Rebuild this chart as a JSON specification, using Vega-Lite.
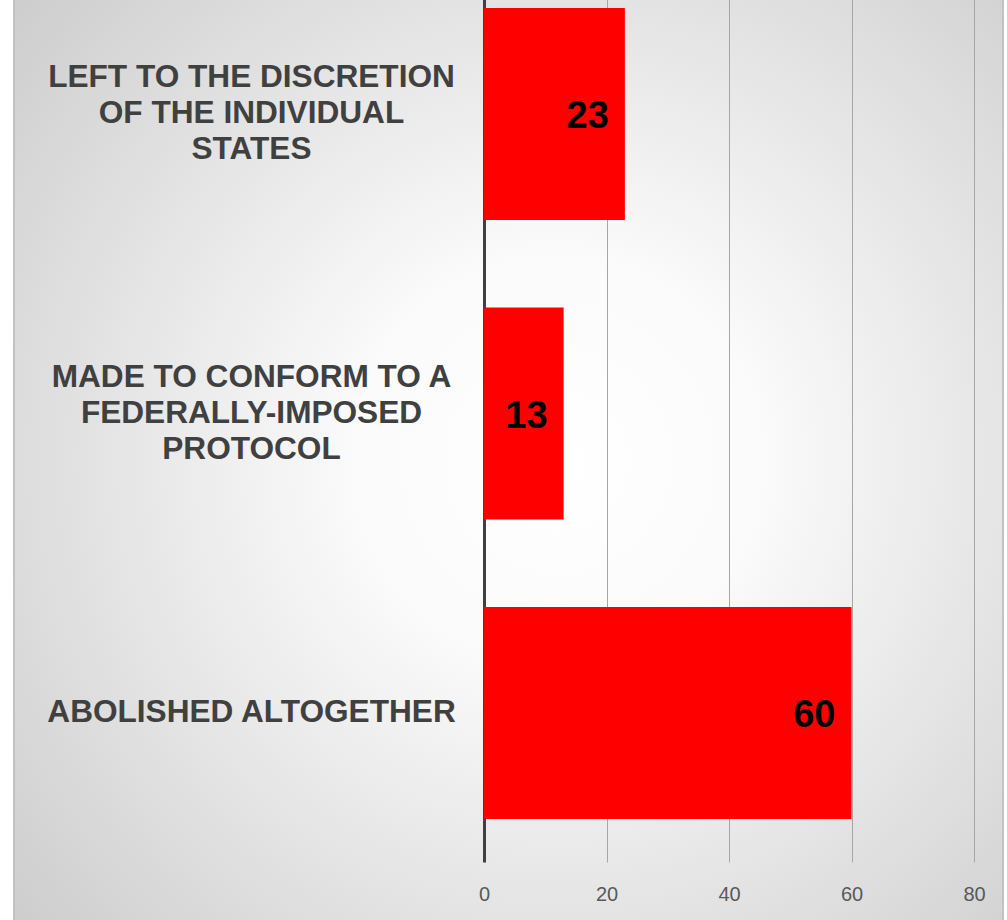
{
  "$schema": "https://vega.github.io/schema/vega-lite/v6.json",
  "autosize": "none",
  "width": 989,
  "height": 923,
  "padding": {"left": 14, "top": -1, "right": 4, "bottom": 0},
  "background": "#ffffff",
  "config": {
    "view": {
      "stroke": "#c2c2c2",
      "strokeWidth": 2,
      "fill": {
        "gradient": "radial",
        "x1": 0.55, "y1": 0.5, "x2": 0.55, "y2": 0.5,
        "r1": 0, "r2": 0.8,
        "stops": [
          {"offset": 0, "color": "#ffffff"},
          {"offset": 0.25, "color": "#fbfbfb"},
          {"offset": 1, "color": "#c6c6c6"}
        ]
      }
    }
  },
  "data": {
    "values": [
      {"option": "LEFT TO THE DISCRETION\nOF THE INDIVIDUAL\nSTATES", "value": 23},
      {"option": "MADE TO CONFORM TO A\nFEDERALLY-IMPOSED\nPROTOCOL", "value": 13},
      {"option": "ABOLISHED ALTOGETHER", "value": 60}
    ]
  },
  "encoding": {
    "y": {
      "field": "option",
      "type": "nominal",
      "sort": null,
      "scale": {"paddingInner": 0.292, "paddingOuter": 0.187, "align": 0.0804},
      "axis": {
        "title": null,
        "orient": "left",
        "offset": -470,
        "domain": false,
        "ticks": false,
        "labelExpr": "split(datum.label, '\\n')",
        "labelAlign": "center",
        "labelBaseline": "middle",
        "labelOffset": {"condition": {"test": "length(split(datum.value, '\\n')) > 1", "value": -36}, "value": 0},
        "labelPadding": 233,
        "labelFont": "Liberation Sans",
        "labelFontSize": 31.6,
        "labelFontWeight": "bold",
        "labelColor": "#404040",
        "labelLineHeight": 36,
        "labelLimit": 0
      }
    },
    "x": {
      "field": "value",
      "type": "quantitative",
      "scale": {"domain": [-76.73, 84.73], "nice": false, "zero": false},
      "axis": {
        "title": null,
        "orient": "bottom",
        "offset": -60,
        "values": [0, 20, 40, 60, 80],
        "domain": false,
        "grid": false,
        "tickSize": -863,
        "tickColor": {"condition": {"test": "datum.value === 0", "value": "#404040"}, "value": "#a6a6a6"},
        "tickWidth": {"condition": {"test": "datum.value === 0", "value": 3}, "value": 1},
        "labelFont": "Liberation Sans",
        "labelFontSize": 20,
        "labelColor": "#595959",
        "labelPadding": 885
      }
    }
  },
  "layer": [
    {
      "mark": {"type": "bar", "color": "#ff0000"},
      "encoding": {"x2": {"datum": 0}}
    },
    {
      "mark": {
        "type": "text",
        "align": "right",
        "baseline": "middle",
        "dx": -16,
        "dy": 3,
        "font": "Liberation Sans",
        "fontSize": 38,
        "fontWeight": "bold",
        "color": "#000000"
      },
      "encoding": {"text": {"field": "value", "type": "quantitative"}}
    }
  ]
}
